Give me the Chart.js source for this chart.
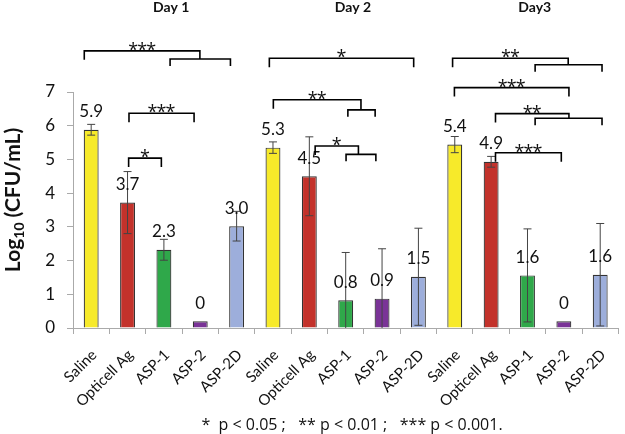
<!DOCTYPE html>
<html>
<head>
<meta charset="utf-8">
<script src="https://cdn.jsdelivr.net/npm/chart.js@4.4.1/dist/chart.umd.min.js"></script>
<style>
  body { margin: 0; background: #fff; }
</style>
</head>
<body>
<canvas id="chart" width="625" height="434"></canvas>
<script>
// data
const groups = ['Saline', 'Opticell Ag', 'ASP-1', 'ASP-2', 'ASP-2D'];
const categories = groups.concat(groups, groups);
const days = ['Day 1', 'Day 2', 'Day3'];
const values = [5.88, 3.72, 2.32, 0.2, 3.02, 5.35, 4.5, 0.82, 0.87, 1.52, 5.44, 4.93, 1.56, 0.2, 1.58];
const errors = [0.16, 0.92, 0.31, 0, 0.44, 0.17, 1.17, 1.42, 1.48, 1.44, 0.24, 0.16, 1.38, 0, 1.52];
const valueLabels = ['5.9', '3.7', '2.3', '0', '3.0', '5.3', '4.5', '0.8', '0.9', '1.5', '5.4', '4.9', '1.6', '0', '1.6'];
const yTicks = [0, 1, 2, 3, 4, 5, 6, 7];

// significance brackets: [from, to, level, stars, subFrom, subTo, subLevel] (category index / log value)
const brackets = [
  [-0.19, 2.99, 8.22, '***', 2.17, 3.83, 7.98],
  [1.04, 2.83, 6.37, '***'],
  [1.03, 1.93, 5.04, '*'],
  [4.9, 8.87, 8.0, '*'],
  [5.01, 7.42, 6.77, '**', 7.06, 7.81, 6.47],
  [6.16, 7.35, 5.40, '*', 7.01, 7.83, 5.15],
  [9.94, 13.12, 8.0, '**', 12.21, 14.05, 7.81],
  [9.99, 13.14, 7.13, '***'],
  [11.12, 13.14, 6.36, '**', 12.21, 14.05, 6.22],
  [11.12, 12.93, 5.2, '***']
];

const groupColors = ['#F7EA2A', '#C3322B', '#2FA84A', '#7A3397', '#9DAEDB'];
const barColors = categories.map((c, i) => groupColors[i % 5]);
const FONT = 'Lato, "Noto Sans", sans-serif';
const STAR_FONT = '"Open Sans", sans-serif';

function xAt(scale, idx) {
  const a = scale.getPixelForValue(Math.floor(idx));
  const b = scale.getPixelForValue(Math.floor(idx) + 1);
  return a + (b - a) * (idx - Math.floor(idx));
}

function drawStars(ctx, x, lineY, stars) {
  ctx.font = '18px ' + STAR_FONT;
  ctx.textAlign = 'center';
  ctx.textBaseline = 'alphabetic';
  const n = stars.length;
  for (let k = 0; k < n; k++) {
    ctx.fillText('*', x + (k - (n - 1) / 2) * 9, lineY + 5);
  }
}

const extras = {
  id: 'extras',
  afterDatasetsDraw(chart) {
    const ctx = chart.ctx;
    const xs = chart.scales.x;
    const ys = chart.scales.y;
    ctx.save();

    // error bars
    ctx.strokeStyle = '#444';
    ctx.lineWidth = 1;
    values.forEach((v, i) => {
      if (!errors[i]) return;
      const x = xs.getPixelForValue(i);
      const top = ys.getPixelForValue(v + errors[i]);
      const lowV = v - errors[i];
      const bot = ys.getPixelForValue(Math.max(0, lowV));
      ctx.beginPath();
      ctx.moveTo(x, top); ctx.lineTo(x, bot);
      ctx.moveTo(x - 4, top); ctx.lineTo(x + 4, top);
      if (lowV > 0) { ctx.moveTo(x - 4, bot); ctx.lineTo(x + 4, bot); }
      ctx.stroke();
    });

    // value labels
    ctx.fillStyle = '#111';
    ctx.font = '17px ' + FONT;
    ctx.textAlign = 'center';
    ctx.textBaseline = 'middle';
    values.forEach((v, i) => {
      ctx.fillText(valueLabels[i], xs.getPixelForValue(i), ys.getPixelForValue(v) - 18);
    });

    // brackets
    ctx.strokeStyle = '#000';
    ctx.lineWidth = 1.6;
    brackets.forEach(b => {
      const x1 = xAt(xs, b[0]), x2 = xAt(xs, b[1]), y = ys.getPixelForValue(b[2]);
      ctx.beginPath();
      ctx.moveTo(x1, y + 9); ctx.lineTo(x1, y); ctx.lineTo(x2, y);
      if (b.length > 4) {
        const s1 = xAt(xs, b[4]), s2 = xAt(xs, b[5]), sy = ys.getPixelForValue(b[6]);
        ctx.lineTo(x2, sy);
        ctx.moveTo(s1, sy + 7); ctx.lineTo(s1, sy); ctx.lineTo(s2, sy); ctx.lineTo(s2, sy + 7);
      } else {
        ctx.lineTo(x2, y + 9);
      }
      ctx.stroke();
      ctx.fillStyle = '#111';
      drawStars(ctx, (x1 + x2) / 2, y, b[3]);
    });

    // day titles
    ctx.fillStyle = '#111';
    ctx.font = 'bold 14px ' + FONT;
    ctx.textAlign = 'center';
    ctx.textBaseline = 'middle';
    days.forEach((d, g) => {
      ctx.fillText(d, xAt(xs, g * 5 + 2.2), 7);
    });

    // y axis title with subscript
    ctx.save();
    ctx.translate(13, 200);
    ctx.rotate(-Math.PI / 2);
    ctx.textBaseline = 'middle';
    const part1 = 'Log', part3 = ' (CFU/mL)';
    ctx.font = 'bold 21px ' + FONT;
    const w1 = ctx.measureText(part1).width;
    const w3 = ctx.measureText(part3).width;
    ctx.font = 'bold 14px ' + FONT;
    const w2 = ctx.measureText('10').width;
    let x0 = -(w1 + w2 + w3) / 2;
    ctx.textAlign = 'left';
    ctx.font = 'bold 21px ' + FONT;
    ctx.fillText(part1, x0, 0);
    ctx.font = 'bold 14px ' + FONT;
    ctx.fillText('10', x0 + w1, 6);
    ctx.font = 'bold 21px ' + FONT;
    ctx.fillText(part3, x0 + w1 + w2, 0);
    ctx.restore();

    // footnote
    ctx.fillStyle = '#111';
    ctx.font = '16px ' + STAR_FONT;
    ctx.textAlign = 'center';
    ctx.textBaseline = 'middle';
    ctx.fillText('*  p < 0.05 ;   ** p < 0.01 ;   *** p < 0.001.', 352, 425);

    ctx.restore();
  }
};

const chart = new Chart(document.getElementById('chart').getContext('2d'), {
  type: 'bar',
  data: {
    labels: categories,
    datasets: [{
      data: values,
      backgroundColor: barColors,
      borderColor: '#333',
      borderWidth: 1.2,
      barPercentage: 0.41,
      categoryPercentage: 1
    }]
  },
  options: {
    responsive: false,
    animation: false,
    layout: { padding: { top: 92, right: 2, left: 0, bottom: 0 } },
    plugins: { legend: { display: false }, tooltip: { enabled: false } },
    scales: {
      x: {
        offset: true,
        grid: { offset: true, drawOnChartArea: false, tickLength: 6, color: '#aaa' },
        border: { color: '#aaa' },
        ticks: {
          autoSkip: false, maxRotation: 45, minRotation: 45, padding: 12, labelOffset: 3,
          color: '#111', font: { family: FONT, size: 15 }
        },
        afterFit: s => { s.height = 106; }
      },
      y: {
        min: 0, max: 7,
        afterBuildTicks: s => { s.ticks = yTicks.map(v => ({ value: v })); },
        grid: { drawOnChartArea: false, tickLength: 6, color: '#aaa' },
        border: { color: '#aaa' },
        ticks: { color: '#111', font: { family: FONT, size: 17 }, padding: 12 },
        afterFit: s => { s.width = 73; }
      }
    }
  },
  plugins: [extras]
});
</script>
</body>
</html>
